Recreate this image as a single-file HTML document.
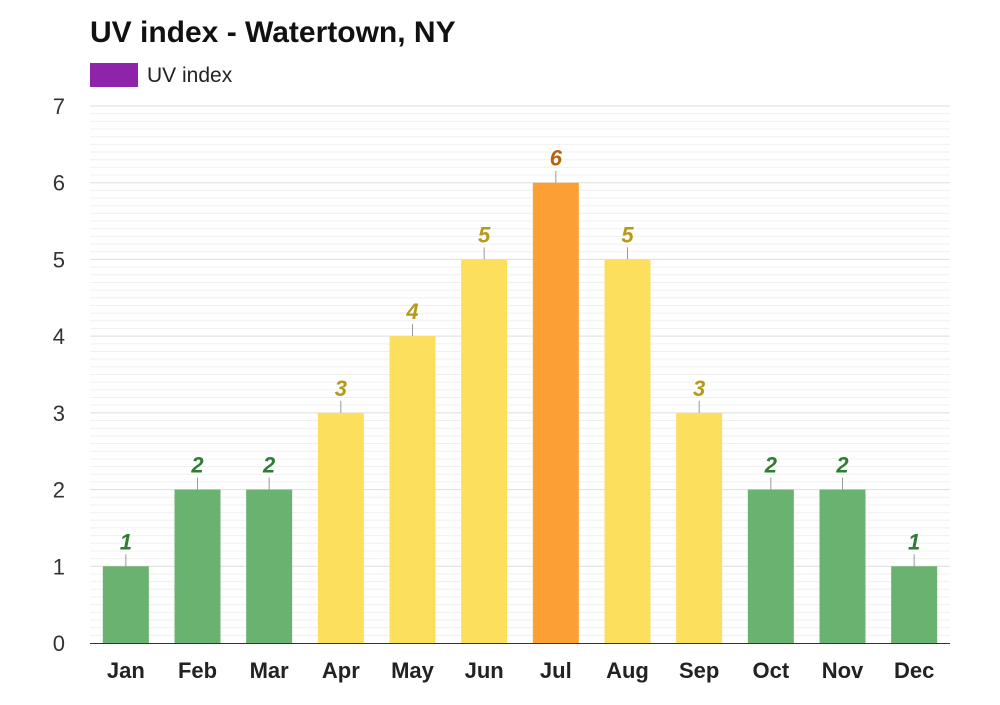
<!DOCTYPE html>
<html><head><meta charset="utf-8"><style>
body{margin:0;background:#fff;font-family:"Liberation Sans",Arial,sans-serif}
</style></head><body>
<svg id="chart" width="1000" height="700" xmlns="http://www.w3.org/2000/svg">
<text x="90" y="42" font-size="30" font-weight="bold" fill="#111">UV index - Watertown, NY</text>
<g>
<rect x="90" y="63" width="48" height="24" fill="#8e24aa"/>
<text x="147" y="82" font-size="21" fill="#222">UV index</text>
</g>
<g id="grid"></g><g id="bars"></g><g id="axes"></g>
</svg>
<script>
const months=["Jan","Feb","Mar","Apr","May","Jun","Jul","Aug","Sep","Oct","Nov","Dec"];
const uvValues=[1,2,2,3,4,5,6,5,3,2,2,1];
const yTicks=[0,1,2,3,4,5,6,7];
const NS="http://www.w3.org/2000/svg";
const x0=90,x1=950,yTop=106,yBot=643,yMax=7;
const band=(x1-x0)/months.length;
const y=v=>yBot-(v/yMax)*(yBot-yTop);
const xc=i=>x0+band*(i+0.5);
function mk(tag,attrs,parent){const e=document.createElementNS(NS,tag);for(const k in attrs)e.setAttribute(k,attrs[k]);document.getElementById(parent).appendChild(e);return e;}
for(let m=0;m<yMax*10;m++){if(m%10===0)continue;const g=mk('line',{x1:x0,x2:x1,y1:y(m/10),y2:y(m/10),stroke:'#f0f0f0','stroke-width':1},'grid');

}
yTicks.forEach(t=>{
 if(t>0){const l=mk('line',{x1:x0,x2:x1,y1:y(t),y2:y(t),stroke:'#ddd','stroke-width':1},'grid');
 
 }
 const tx=mk('text',{x:65,y:y(t)+8,'font-size':22,fill:'#333','text-anchor':'end'},'axes');tx.textContent=t;
 
 
});
const ax=mk('line',{x1:x0,x2:x1,y1:yBot+0.5,y2:yBot+0.5,stroke:'#333','stroke-width':1},'axes');


function colors(v){if(v<=2)return['#6ab26f','#2e7d32'];if(v<=5)return['#fcdf5c','#b59a1c'];return['#fca035','#b8620c'];}
uvValues.forEach((v,i)=>{
 const [fc,tc]=colors(v);const bw=46;
 const r=mk('rect',{x:xc(i)-bw/2,y:y(v),width:bw,height:yBot-y(v),fill:fc},'bars');
 
 
 const tk=mk('line',{x1:xc(i),x2:xc(i),y1:y(v)-12,y2:y(v),stroke:'#999','stroke-width':1},'bars');
 
 
 const lb=mk('text',{x:xc(i),y:y(v)-17,'font-size':22,'font-weight':'bold','font-style':'italic',fill:tc,'text-anchor':'middle'},'bars');lb.textContent=v;
 
 
 const ml=mk('text',{x:xc(i),y:678,'font-size':22,'font-weight':'bold',fill:'#222','text-anchor':'middle'},'axes');ml.textContent=months[i];
 
 
});
</script>
</body></html>
